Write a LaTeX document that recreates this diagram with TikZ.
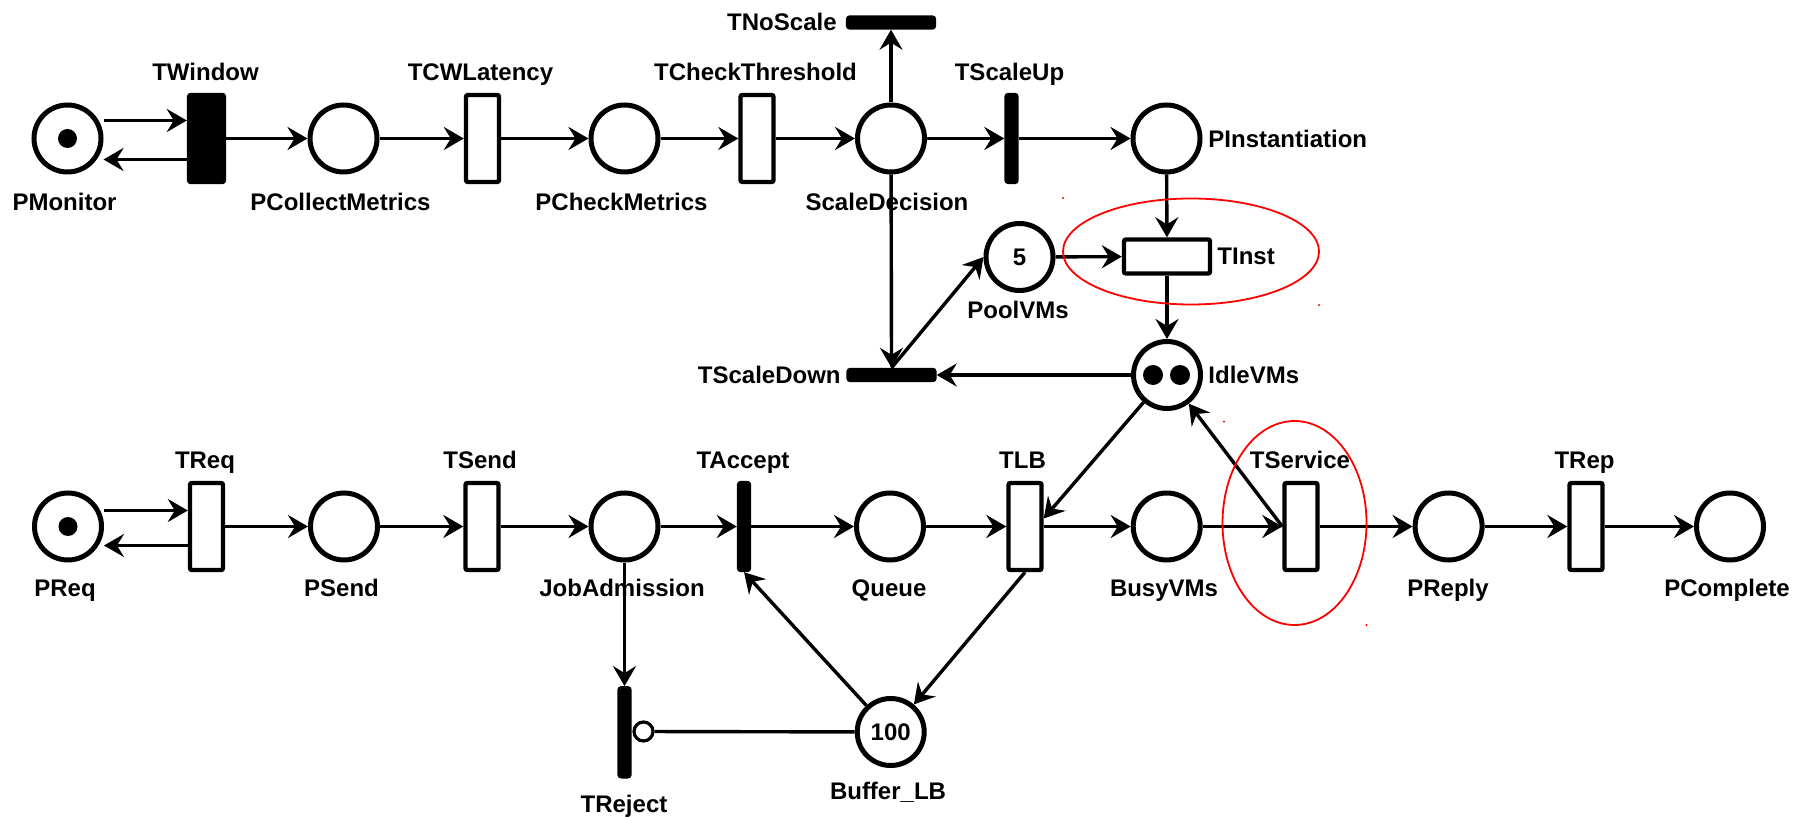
\documentclass[tikz,border=0pt]{standalone}
\usepackage{fontspec}
\setmainfont{Liberation Sans}
\usetikzlibrary{arrows.meta}
\newcommand\lblfont{\fontsize{12}{14}\selectfont\bfseries}

\begin{document}
\begin{tikzpicture}[x=0.5pt, y=-0.5pt,
  place/.style={circle, draw, line width=2.5pt, minimum size=33.5pt, inner sep=0pt, font=\lblfont},
  token/.style={circle, fill=black, minimum size=9.5pt, inner sep=0pt},
  trans/.style={rectangle, draw, fill=white, line width=2.2pt, rounded corners=1pt,
                minimum width=16.5pt, minimum height=43.5pt, inner sep=0pt},
  vbar/.style={trans, fill=black, minimum width=5pt},
  hbar/.style={trans, fill=black, minimum width=43pt, minimum height=5pt},
  arc/.style={line width=1.7pt, -{Stealth[length=10pt,width=11.5pt,inset=3.5pt]}},
  lbl/.style={font=\lblfont, inner sep=0pt, anchor=base},
  redring/.style={draw=red, line width=0.9pt}]

\useasboundingbox (0,0) rectangle (1807,817);

% ---- monitoring / scaling loop ----
\node[place] (PMonitor) at (67.5,138.5) {};
\node[token] (tokMon) at (PMonitor.center) {};
\node[trans, fill=black, minimum width=17.5pt] (TWindow) at (206.5,138.5) {};
\node[place] (PCollectMetrics) at (343.5,138.5) {};
\node[trans] (TCWLatency) at (482.5,138.5) {};
\node[place] (PCheckMetrics) at (624.5,138.5) {};
\node[trans] (TCheckThreshold) at (757,138.5) {};
\node[place] (ScaleDecision) at (891,138.5) {};
\node[vbar] (TScaleUp) at (1011.5,138.5) {};
\node[place] (PInstantiation) at (1166.5,138.5) {};
\node[hbar] (TNoScale) at (891,22.5) {};
\node[trans, minimum width=43pt, minimum height=17pt] (TInst) at (1167,256.5) {};
\node[place] (PoolVMs) at (1019.5,257) {5};
\node[place] (IdleVMs) at (1167,375) {};
\node[token, minimum size=10pt] (tokIdleA) at ([xshift=-7pt]IdleVMs.center) {};
\node[token, minimum size=10pt] (tokIdleB) at ([xshift=6.5pt]IdleVMs.center) {};
\node[hbar] (TScaleDown) at (891.5,375) {};

% ---- request path ----
\node[place] (PReq) at (68,526.5) {};
\node[token] (tokReq) at (PReq.center) {};
\node[trans] (TReq) at (206.5,526.5) {};
\node[place] (PSend) at (344,526.5) {};
\node[trans] (TSend) at (482,526.5) {};
\node[place] (JobAdmission) at (624.5,526.5) {};
\node[vbar] (TAccept) at (744,526.5) {};
\node[place] (Queue) at (890,526.5) {};
\node[trans] (TLB) at (1025,526.5) {};
\node[place] (BusyVMs) at (1166.7,526.5) {};
\node[trans] (TService) at (1301,526.5) {};
\node[place] (PReply) at (1448.6,526.5) {};
\node[trans] (TRep) at (1586,526.5) {};
\node[place] (PComplete) at (1730,526.5) {};
\node[vbar, minimum height=44pt] (TReject) at (624.5,732.3) {};
\node[place] (BufferLB) at (890.7,732) {100};
\node[circle, draw, fill=white, line width=1.6pt, minimum size=9.5pt, inner sep=0pt] (inh) at (643.5,731.5) {};

% ---- arcs ----
\draw[arc] ([yshift=9pt]PMonitor.east) -- ([yshift=9pt]TWindow.west);
\draw[arc] ([yshift=-10.5pt]TWindow.west) -- ([yshift=-10.5pt]PMonitor.east);
\draw[arc] (TWindow) -- (PCollectMetrics);
\draw[arc] (PCollectMetrics) -- (TCWLatency);
\draw[arc] (TCWLatency) -- (PCheckMetrics);
\draw[arc] (PCheckMetrics) -- (TCheckThreshold);
\draw[arc] (TCheckThreshold) -- (ScaleDecision);
\draw[arc] (ScaleDecision) -- (TScaleUp);
\draw[arc] (TScaleUp) -- (PInstantiation);
\draw[arc] (ScaleDecision) -- (TNoScale);
\draw[arc] (ScaleDecision) -- (TScaleDown.north);
\draw[arc] (TScaleDown.north) -- (PoolVMs.west);
\draw[arc] (IdleVMs) -- (TScaleDown);
\draw[arc] (PInstantiation) -- (TInst);
\draw[arc] (PoolVMs) -- (TInst);
\draw[arc] (TInst) -- (IdleVMs);
\draw[arc] (IdleVMs) -- ([yshift=4pt]TLB.east);
\draw[arc] (TService.west) -- (IdleVMs);

\draw[arc] ([yshift=8pt]PReq.east) -- ([yshift=8pt]TReq.west);
\draw[arc] ([yshift=-9.5pt]TReq.west) -- ([yshift=-9.5pt]PReq.east);
\draw[arc] (TReq) -- (PSend);
\draw[arc] (PSend) -- (TSend);
\draw[arc] (TSend) -- (JobAdmission);
\draw[arc] (JobAdmission) -- (TAccept);
\draw[arc] (TAccept) -- (Queue);
\draw[arc] (Queue) -- (TLB);
\draw[arc] (TLB) -- (BusyVMs);
\draw[arc] (BusyVMs) -- (TService);
\draw[arc] (TService) -- (PReply);
\draw[arc] (PReply) -- (TRep);
\draw[arc] (TRep) -- (PComplete);
\draw[arc] (JobAdmission) -- (TReject);
\draw[arc] (BufferLB) -- (TAccept.south);
\draw[arc] (TLB.south) -- (BufferLB);
\draw[line width=1.7pt] (BufferLB) -- (inh);

% ---- labels ----
\node[lbl] (lTWindow) at (205.5,80.5) {TWindow};
\node[lbl] (lTCWLatency) at (480.5,80.5) {TCWLatency};
\node[lbl] (lTCheckThreshold) at (755.5,80.5) {TCheckThreshold};
\node[lbl] (lTScaleUp) at (1009.5,80.5) {TScaleUp};
\node[lbl] (lPMonitor) at (64.5,210.5) {PMonitor};
\node[lbl] (lPCollectMetrics) at (340.5,210.5) {PCollectMetrics};
\node[lbl] (lPCheckMetrics) at (621.5,210.5) {PCheckMetrics};
\node[lbl] (lScaleDecision) at (887,210.5) {ScaleDecision};
\node[lbl, anchor=base west] (lPInstantiation) at (1208,147.5) {PInstantiation};
\node[lbl, anchor=base east] (lTNoScale) at (837,30.5) {TNoScale};
\node[lbl, anchor=base west] (lTInst) at (1217,265) {TInst};
\node[lbl] (lPoolVMs) at (1018,319) {PoolVMs};
\node[lbl, anchor=base west] (lIdleVMs) at (1208,383.5) {IdleVMs};
\node[lbl, anchor=base east] (lTScaleDown) at (841,383.5) {TScaleDown};

\node[lbl] (lTReq) at (205,468) {TReq};
\node[lbl] (lTSend) at (480,468) {TSend};
\node[lbl] (lTAccept) at (743,468) {TAccept};
\node[lbl] (lTLB) at (1022.5,468) {TLB};
\node[lbl] (lTService) at (1300,468) {TService};
\node[lbl] (lTRep) at (1584.5,468) {TRep};
\node[lbl] (lPReq) at (65,596.5) {PReq};
\node[lbl] (lPSend) at (341.5,596.5) {PSend};
\node[lbl] (lJobAdmission) at (622,596.5) {JobAdmission};
\node[lbl] (lQueue) at (889,596.5) {Queue};
\node[lbl] (lBusyVMs) at (1164,596.5) {BusyVMs};
\node[lbl] (lPReply) at (1448,596.5) {PReply};
\node[lbl] (lPComplete) at (1727,596.5) {PComplete};
\node[lbl] (lTReject) at (624,812.5) {TReject};
\node[lbl] (lBufferLB) at (888,799.5) {Buffer\_LB};

% ---- highlight rings ----
\draw[redring] (1191,251.5) ellipse [x radius=64pt, y radius=26.5pt];
\draw[redring] (1294.5,523) ellipse [x radius=36pt, y radius=51pt];
\fill[red] (1063,198) circle (0.6pt);
\fill[red] (1319,305) circle (0.6pt);
\fill[red] (1224,421.5) circle (0.6pt);
\fill[red] (1366.5,625) circle (0.6pt);
\end{tikzpicture}
\end{document}
